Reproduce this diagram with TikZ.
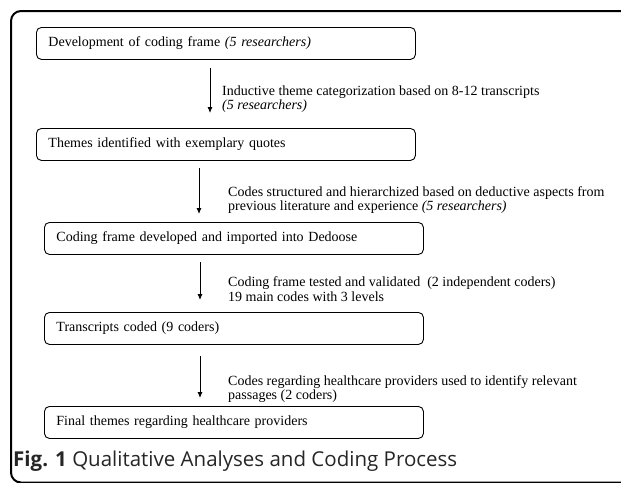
\documentclass[tikz,border=0pt]{standalone}
\usepackage{fontspec}
\setmainfont{Liberation Serif}
\newfontfamily\capfont{Open Sans}
\usetikzlibrary{arrows.meta}
\begin{document}
\begin{tikzpicture}[x=1pt,y=-1pt,
  stepbox/.style={draw, rounded corners=5pt, line width=0.9pt, minimum width=375pt, minimum height=32pt,
    text width=355pt, align=left, inner xsep=12pt, anchor=north west, font=\fontsize{14}{15}\selectfont},
  lbl/.style={anchor=west, align=left, inner sep=0pt, font=\fontsize{14}{14.5}\selectfont},
  arr/.style={-{Latex[length=6pt,width=5pt]}, line width=0.9pt}]
\useasboundingbox (0,0) rectangle (621,482);
\begin{scope}
\clip (0,0) rectangle (621,482);
\draw[line width=2pt, rounded corners=10pt] (11,11) rectangle (720,482.5);
\end{scope}
\node[stepbox] (b1) at (36,27) {Development of coding frame \textit{(5 researchers)}};
\node[stepbox] (b2) at (36,128) {Themes identified with exemplary quotes};
\node[stepbox] (b3) at (44,222) {Coding frame developed and imported into Dedoose};
\node[stepbox] (b4) at (44,312) {Transcripts coded (9 coders)};
\node[stepbox] (b5) at (44,406) {Final themes regarding healthcare providers};
\coordinate (a1s) at (210,68); \coordinate (a1e) at (210,113);
\coordinate (a2s) at (199,168); \coordinate (a2e) at (199,214);
\coordinate (a3s) at (200,262); \coordinate (a3e) at (200,300);
\coordinate (a4s) at (200,356); \coordinate (a4e) at (200,398);
\draw[arr] (a1s) -- (a1e);
\draw[arr] (a2s) -- (a2e);
\draw[arr] (a3s) -- (a3e);
\draw[arr] (a4s) -- (a4e);
\node[lbl] (l1) at (222,99) {Inductive theme categorization based on 8-12 transcripts\\\textit{(5 researchers)}};
\node[lbl] (l2) at (228,200) {Codes structured and hierarchized based on deductive aspects from\\previous literature and experience \textit{(5 researchers)}};
\node[lbl] (l3) at (228,289) {Coding frame tested and validated~ (2 independent coders)\\19 main codes with 3 levels};
\node[lbl] (l4) at (228,389) {Codes regarding healthcare providers used to identify relevant\\passages (2 coders)};
\node[anchor=west, inner sep=0pt, font=\capfont\fontsize{20.5}{23}\selectfont, text=black!85] (cap) at (13,461) {\textbf{Fig. 1} Qualitative Analyses and Coding Process};
\end{tikzpicture}
\end{document}
